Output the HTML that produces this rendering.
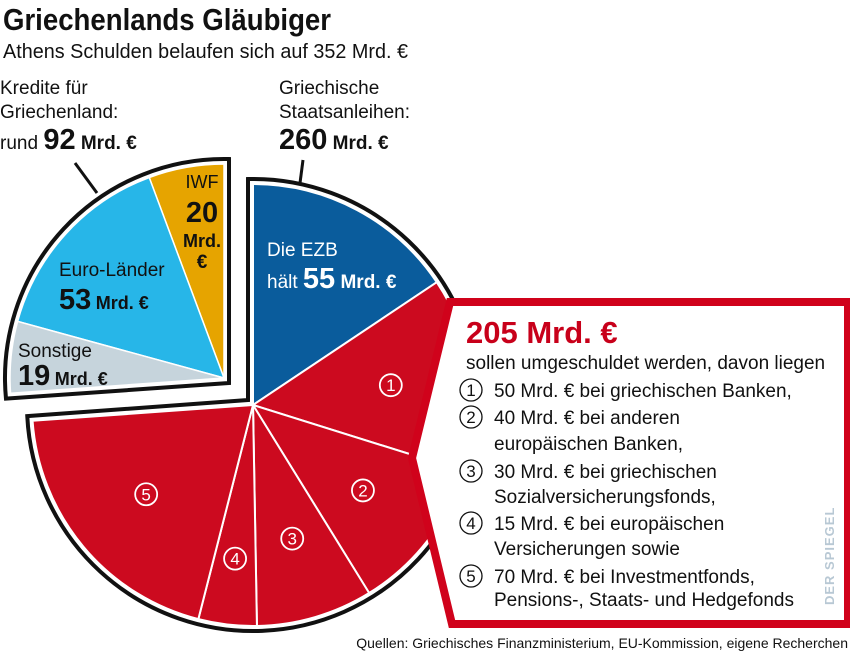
<!DOCTYPE html>
<html><head><meta charset="utf-8"><style>
body{margin:0;background:#fff;}
svg{display:block;font-family:"Liberation Sans Narrow","Liberation Sans",sans-serif;}
</style></head><body>
<svg id="chart" width="850" height="652" viewBox="0 0 850 652">
<text x="3" y="30" font-size="31" font-weight="bold" fill="#111" textLength="328" lengthAdjust="spacingAndGlyphs">Griechenlands Gläubiger</text>
<text x="3" y="58" font-size="20" fill="#111" textLength="405" lengthAdjust="spacingAndGlyphs">Athens Schulden belaufen sich auf 352 Mrd. €</text>
<g font-size="19" fill="#111">
<text x="0" y="94">Kredite für</text><text x="0" y="118">Griechenland:</text>
<text x="0" y="149">rund <tspan font-size="29" font-weight="bold">92</tspan> <tspan font-weight="bold">Mrd. €</tspan></text>
</g>
<g font-size="19" fill="#111">
<text x="279" y="94">Griechische</text><text x="279" y="118">Staatsanleihen:</text>
<text x="279" y="149"><tspan font-size="29" font-weight="bold">260</tspan> <tspan font-weight="bold">Mrd. €</tspan></text>
</g>
<line x1="75" y1="163" x2="97" y2="193" stroke="#111" stroke-width="3"/>
<line x1="303" y1="160" x2="300" y2="183" stroke="#111" stroke-width="3"/>
<g id="pie"></g>
<g id="labels">
<text x="267" y="256" font-size="19" fill="#fff">Die EZB</text>
<text x="267" y="288" font-size="19" fill="#fff">hält <tspan font-size="29" font-weight="bold">55</tspan> <tspan font-weight="bold">Mrd. €</tspan></text>
<text x="59" y="276" font-size="19" fill="#111">Euro-Länder</text>
<text x="59" y="309" fill="#111"><tspan font-size="29" font-weight="bold">53</tspan> <tspan font-size="18" font-weight="bold">Mrd. €</tspan></text>
<text x="18" y="357" font-size="19" fill="#111">Sonstige</text>
<text x="18" y="385" fill="#111"><tspan font-size="29" font-weight="bold">19</tspan> <tspan font-size="18" font-weight="bold">Mrd. €</tspan></text>
<g text-anchor="middle" fill="#111">
<text x="202" y="188" font-size="18">IWF</text>
<text x="202" y="222" font-size="29" font-weight="bold">20</text>
<text x="202" y="247" font-size="18" font-weight="bold" textLength="38" lengthAdjust="spacingAndGlyphs">Mrd.</text>
<text x="202" y="268" font-size="19" font-weight="bold">€</text>
</g>
</g>
<g>
<polygon points="455,306 852,306 852,628 457,628 417,462" fill="#bbb" opacity="0.5"/>
<polygon points="450,302 848,302 848,624 452,624 412,458" fill="#fff" stroke="#d0021b" stroke-width="8" stroke-linejoin="miter"/>
<text x="466" y="343" font-size="31" font-weight="bold" fill="#c8001a">205 Mrd. €</text>
<g font-size="19" fill="#111">
<text x="466" y="369">sollen umgeschuldet werden, davon liegen</text>
<text x="494" y="397">50 Mrd. € bei griechischen Banken,</text>
<text x="494" y="424">40 Mrd. € bei anderen</text>
<text x="494" y="450">europäischen Banken,</text>
<text x="494" y="478">30 Mrd. € bei griechischen</text>
<text x="494" y="503">Sozialversicherungsfonds,</text>
<text x="494" y="530">15 Mrd. € bei europäischen</text>
<text x="494" y="555">Versicherungen sowie</text>
<text x="494" y="583">70 Mrd. € bei Investmentfonds,</text>
<text x="494" y="606">Pensions-, Staats- und Hedgefonds</text>
</g>
<g id="legendNums"></g>
<text transform="translate(834,605) rotate(-90)" font-size="13" font-weight="bold" fill="#b8c8d4" letter-spacing="1">DER SPIEGEL</text>
</g>
<text x="848" y="648" text-anchor="end" font-size="14" fill="#111">Quellen: Griechisches Finanzministerium, EU-Kommission, eigene Recherchen</text>
</svg>
<script>
const total = 352;
const rightCategories = ["EZB", "1", "2", "3", "4", "5"];
const rightValues = [55, 50, 40, 30, 15, 70];
const leftCategories = ["IWF", "Euro-Länder", "Sonstige"];
const leftValues = [20, 53, 19];
const NS = "http://www.w3.org/2000/svg";
const pie = document.getElementById("pie");
function deg(v){ return v / total * 360; }
function pt(cx, cy, r, a){ const t = a * Math.PI / 180; return [cx + r * Math.sin(t), cy - r * Math.cos(t)]; }
function arcPath(cx, cy, r, a0, a1){
  const p0 = pt(cx, cy, r, a0), p1 = pt(cx, cy, r, a1);
  const large = (a1 - a0) > 180 ? 1 : 0;
  return `M${cx},${cy} L${p0[0]},${p0[1]} A${r},${r} 0 ${large} 1 ${p1[0]},${p1[1]} Z`;
}
// outline: arc at r with angles widened by gap, apex shifted to corner
function outlinePath(cx, cy, r, a0, a1, gap, corner){
  const d = Math.asin(gap / r) * 180 / Math.PI;
  const b0 = a0 - d, b1 = a1 + d;
  const p0 = pt(cx, cy, r, b0), p1 = pt(cx, cy, r, b1);
  const large = (b1 - b0) > 180 ? 1 : 0;
  return `M${corner[0]},${corner[1]} L${p0[0]},${p0[1]} A${r},${r} 0 ${large} 1 ${p1[0]},${p1[1]} Z`;
}
function mk(tag, attrs){ const e = document.createElementNS(NS, tag); for (const k in attrs) e.setAttribute(k, attrs[k]); return e; }
// right pie
const RC = [253, 405], RR = 221;
const rightSum = rightValues.reduce((a, b) => a + b, 0);
const outlineR = mk("path", {d: outlinePath(RC[0], RC[1], RR + 5, 0, deg(rightSum), 5, [RC[0] - 5, RC[1] - 5]), fill: "#fff", stroke: "#111", "stroke-width": 4, "stroke-linejoin": "miter"});


pie.appendChild(outlineR);
let a = 0;
rightValues.forEach((v, i) => {
  const a1 = a + deg(v);
  const s = mk("path", {d: arcPath(RC[0], RC[1], RR, a, a1), fill: i === 0 ? "#0a5c9c" : "#cc0a1f", stroke: "#fff", "stroke-width": 2});
  
  
  pie.appendChild(s);
  if (i > 0) {
    const m = pt(RC[0], RC[1], RR * (i === 4 ? 0.7 : 0.63), (a + a1) / 2);
    const c = mk("circle", {cx: m[0], cy: m[1], r: 11, fill: "none", stroke: "#fff", "stroke-width": 1.8});
    
    
    pie.appendChild(c);
    const t = mk("text", {x: m[0], y: m[1] + 6, "text-anchor": "middle", "font-size": 17, fill: "#fff"});
    t.textContent = rightCategories[i];
    
    
    pie.appendChild(t);
  }
  a = a1;
});
// left exploded pie
const LC = [224, 378], LR = 214;
const leftSum = leftValues.reduce((x, y) => x + y, 0);
const outlineL = mk("path", {d: outlinePath(LC[0], LC[1], LR + 5, 360 - deg(leftSum), 360, 5, [LC[0] + 5, LC[1] + 5]), fill: "#fff", stroke: "#111", "stroke-width": 4, "stroke-linejoin": "miter"});


pie.appendChild(outlineL);
const leftColors = ["#e6a400", "#27b6e8", "#c6d4dc"];
let b = 360;
leftValues.forEach((v, i) => {
  const b0 = b - deg(v);
  const s = mk("path", {d: arcPath(LC[0], LC[1], LR, b0, b), fill: leftColors[i], stroke: "#fff", "stroke-width": 1.5});
  
  
  pie.appendChild(s);
  b = b0;
});
// legend number circles
const ln = document.getElementById("legendNums");
const legendY = [390, 417, 471, 523, 576];
rightCategories.slice(1).forEach((n, i) => {
  const c = mk("circle", {cx: 471, cy: legendY[i], r: 11, fill: "none", stroke: "#111", "stroke-width": 1.3});
  
  
  ln.appendChild(c);
  const t = mk("text", {x: 471, y: legendY[i] + 6, "text-anchor": "middle", "font-size": 17, fill: "#111"});
  t.textContent = n;
  
  
  ln.appendChild(t);
});
</script>
</body></html>
